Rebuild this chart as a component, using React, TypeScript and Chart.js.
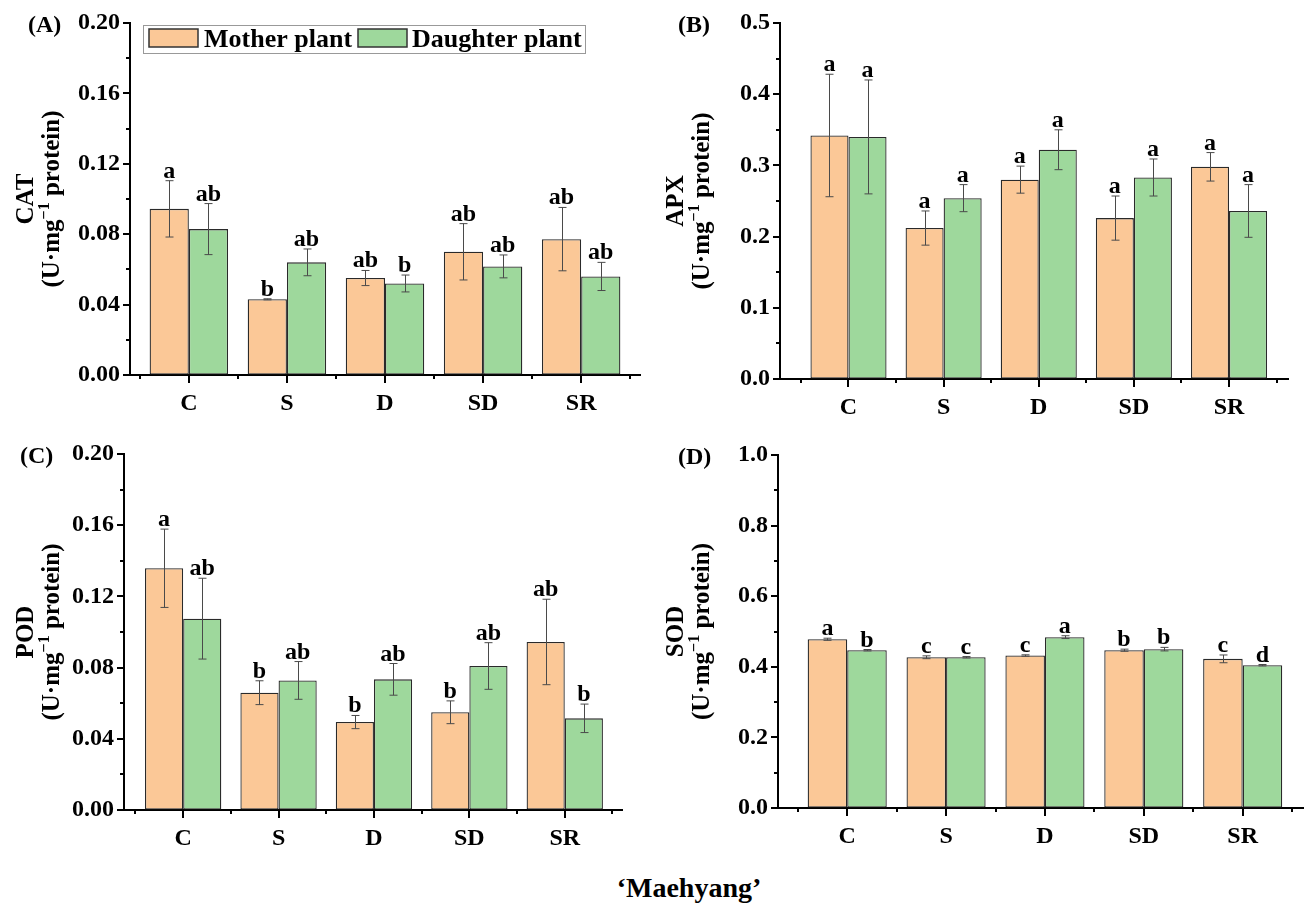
import React, { useEffect, useRef } from 'react';
import { Chart, registerables } from 'chart.js';

Chart.register(...registerables);

const FONT = "'Liberation Serif', 'Times New Roman', serif";
const ORANGE = '#FBC897';
const GREEN = '#9ED89C';

// Treatments on the x axis
const categories = ['C', 'S', 'D', 'SD', 'SR'];
const seriesNames = ['Mother plant', 'Daughter plant'];

// CAT activity
const catMother = [0.0944, 0.043, 0.0551, 0.07, 0.0772];
const catMotherErr = [0.016, 0.0003, 0.0043, 0.016, 0.018];
const catDaughter = [0.0829, 0.064, 0.052, 0.0617, 0.056];
const catDaughterErr = [0.0145, 0.0076, 0.0048, 0.0065, 0.008];
const catMotherSig = ['a', 'b', 'ab', 'ab', 'ab'];
const catDaughterSig = ['ab', 'ab', 'b', 'ab', 'ab'];

// APX activity
const apxMother = [0.342, 0.212, 0.28, 0.226, 0.298];
const apxMotherErr = [0.086, 0.024, 0.019, 0.031, 0.02];
const apxDaughter = [0.34, 0.254, 0.322, 0.283, 0.236];
const apxDaughterErr = [0.08, 0.019, 0.028, 0.026, 0.037];
const apxMotherSig = ['a', 'a', 'a', 'a', 'a'];
const apxDaughterSig = ['a', 'a', 'a', 'a', 'a'];

// POD activity
const podMother = [0.1358, 0.0659, 0.0494, 0.0549, 0.0944];
const podMotherErr = [0.022, 0.0067, 0.0037, 0.0064, 0.024];
const podDaughter = [0.1075, 0.0728, 0.0734, 0.0809, 0.0515];
const podDaughterErr = [0.0227, 0.0106, 0.0089, 0.0131, 0.008];
const podMotherSig = ['a', 'b', 'b', 'b', 'ab'];
const podDaughterSig = ['ab', 'ab', 'ab', 'ab', 'b'];

// SOD activity
const sodMother = [0.478, 0.427, 0.432, 0.447, 0.4225];
const sodMotherErr = [0.003, 0.004, 0.002, 0.003, 0.011];
const sodDaughter = [0.447, 0.427, 0.484, 0.45, 0.4045];
const sodDaughterErr = [0.002, 0.002, 0.004, 0.005, 0.002];
const sodMotherSig = ['a', 'c', 'c', 'b', 'c'];
const sodDaughterSig = ['b', 'c', 'a', 'b', 'd'];

type PanelSpec = {
  tag: string;
  enzyme: string;
  left: number;
  top: number;
  width: number;
  height: number;
  area: { l: number; t: number; r: number; b: number };
  xMin: number;
  xMax: number;
  yMax: number;
  yMinorStep: number;
  decimals: number;
  mother: number[];
  motherErr: number[];
  daughter: number[];
  daughterErr: number[];
  motherSig: string[];
  daughterSig: string[];
  legend: boolean;
};

const panels: PanelSpec[] = [
  {
    tag: '(A)', enzyme: 'CAT', left: 0, top: 0, width: 650, height: 430,
    area: { l: 130, t: 23, r: 640, b: 375 }, xMin: 0.4, xMax: 5.6,
    yMax: 0.2, yMinorStep: 0.02, decimals: 2,
    mother: catMother, motherErr: catMotherErr, daughter: catDaughter, daughterErr: catDaughterErr,
    motherSig: catMotherSig, daughterSig: catDaughterSig, legend: true,
  },
  {
    tag: '(B)', enzyme: 'APX', left: 650, top: 0, width: 656, height: 430,
    area: { l: 780, t: 23, r: 1288, b: 379 }, xMin: 0.28, xMax: 5.62,
    yMax: 0.5, yMinorStep: 0.05, decimals: 1,
    mother: apxMother, motherErr: apxMotherErr, daughter: apxDaughter, daughterErr: apxDaughterErr,
    motherSig: apxMotherSig, daughterSig: apxDaughterSig, legend: false,
  },
  {
    tag: '(C)', enzyme: 'POD', left: 0, top: 430, width: 650, height: 440,
    area: { l: 124, t: 454, r: 622, b: 810 }, xMin: 0.38, xMax: 5.6,
    yMax: 0.2, yMinorStep: 0.02, decimals: 2,
    mother: podMother, motherErr: podMotherErr, daughter: podDaughter, daughterErr: podDaughterErr,
    motherSig: podMotherSig, daughterSig: podDaughterSig, legend: false,
  },
  {
    tag: '(D)', enzyme: 'SOD', left: 650, top: 430, width: 656, height: 440,
    area: { l: 778, t: 455, r: 1303, b: 808 }, xMin: 0.3, xMax: 5.61,
    yMax: 1.0, yMinorStep: 0.1, decimals: 1,
    mother: sodMother, motherErr: sodMotherErr, daughter: sodDaughter, daughterErr: sodDaughterErr,
    motherSig: sodMotherSig, daughterSig: sodDaughterSig, legend: false,
  },
];

const Y_AXIS_W = 70;
const X_AXIS_H = 50;

function makeDecor(spec: PanelSpec) {
  const errs = [spec.motherErr, spec.daughterErr];
  const sigs = [spec.motherSig, spec.daughterSig];
  return {
    id: 'decor',
    afterDatasetsDraw(chart: any) {
      const ctx = chart.ctx;
      const ys = chart.scales.y;
      chart.data.datasets.forEach((ds: any, di: number) => {
        const meta = chart.getDatasetMeta(di);
        meta.data.forEach((bar: any, i: number) => {
          const v = ds.data[i].y;
          const e = errs[di][i];
          const x = Math.round(bar.x) + 0.5;
          const yTop = ys.getPixelForValue(v + e);
          const yBot = ys.getPixelForValue(v - e);
          ctx.save();
          ctx.strokeStyle = '#4a4a4a';
          ctx.lineWidth = 1;
          ctx.beginPath();
          ctx.moveTo(x, yTop);
          ctx.lineTo(x, yBot);
          ctx.moveTo(x - 4, yTop);
          ctx.lineTo(x + 4, yTop);
          ctx.moveTo(x - 4, yBot);
          ctx.lineTo(x + 4, yBot);
          ctx.stroke();
          ctx.fillStyle = '#000';
          ctx.font = `bold 24px ${FONT}`;
          ctx.textAlign = 'center';
          ctx.textBaseline = 'alphabetic';
          ctx.fillText(sigs[di][i], bar.x, Math.min(yTop, bar.y) - 3);
          ctx.restore();
        });
      });
    },
    afterDraw(chart: any) {
      const ctx = chart.ctx;
      const { left, bottom, top } = chart.chartArea;
      const xs = chart.scales.x;
      const ys = chart.scales.y;
      ctx.save();
      ctx.strokeStyle = '#000';
      ctx.lineWidth = 2;
      ctx.beginPath();
      // y tick marks: long at labelled values, short in between
      ys.ticks.forEach((t: any) => {
        const k = Math.round(t.value / spec.yMinorStep);
        const len = k % 2 === 0 ? 7 : 4;
        const py = Math.round(ys.getPixelForValue(t.value));
        ctx.moveTo(left, py);
        ctx.lineTo(left - len, py);
      });
      // x tick marks: long at treatments, short halfway between
      xs.ticks.forEach((t: any) => {
        const len = Number.isInteger(t.value) ? 8 : 4;
        const px = Math.round(xs.getPixelForValue(t.value));
        ctx.moveTo(px, bottom);
        ctx.lineTo(px, bottom + len);
      });
      ctx.stroke();

      // panel tag
      ctx.fillStyle = '#000';
      ctx.font = `bold 24px ${FONT}`;
      ctx.textAlign = 'left';
      ctx.textBaseline = 'alphabetic';
      ctx.fillText(spec.tag, spec.tag === '(C)' ? 20 : 28, top + 9);

      // two-line rotated y title
      const cy = (top + bottom) / 2;
      ctx.save();
      ctx.translate(27, cy);
      ctx.rotate(-Math.PI / 2);
      ctx.textAlign = 'center';
      ctx.textBaseline = 'middle';
      ctx.font = `bold 25px ${FONT}`;
      ctx.fillText(spec.enzyme, 0, 0);
      ctx.restore();

      ctx.save();
      ctx.translate(53, cy);
      ctx.rotate(-Math.PI / 2);
      ctx.textBaseline = 'middle';
      ctx.textAlign = 'left';
      const main = `bold 25px ${FONT}`;
      const sup = `bold 16px ${FONT}`;
      const p1 = '(U\u00b7mg';
      const p2 = '\u22121';
      const p3 = ' protein)';
      ctx.font = main;
      const w1 = ctx.measureText(p1).width;
      const w3 = ctx.measureText(p3).width;
      ctx.font = sup;
      const w2 = ctx.measureText(p2).width;
      let x0 = -(w1 + w2 + w3) / 2;
      ctx.font = main;
      ctx.fillText(p1, x0, 0);
      x0 += w1;
      ctx.font = sup;
      ctx.fillText(p2, x0, -8);
      x0 += w2;
      ctx.font = main;
      ctx.fillText(p3, x0, 0);
      ctx.restore();

      if (spec.legend) {
        const bx = 143 - spec.left;
        const by = 25;
        ctx.lineWidth = 1;
        ctx.strokeStyle = '#999';
        ctx.strokeRect(bx + 0.5, by + 0.5, 442, 28);
        const items = [
          { color: ORANGE, name: seriesNames[0], sx: 149, tx: 204 },
          { color: GREEN, name: seriesNames[1], sx: 358, tx: 412 },
        ];
        ctx.font = `bold 26px ${FONT}`;
        ctx.textAlign = 'left';
        ctx.textBaseline = 'alphabetic';
        items.forEach((it) => {
          ctx.fillStyle = it.color;
          ctx.fillRect(it.sx, by + 4, 49, 18);
          ctx.strokeStyle = '#333';
          ctx.lineWidth = 1.5;
          ctx.strokeRect(it.sx, by + 4, 49, 18);
          ctx.fillStyle = '#000';
          ctx.fillText(it.name, it.tx, by + 22);
        });
      }
      ctx.restore();
    },
  };
}

function buildConfig(spec: PanelSpec): any {
  const l = spec.area.l - spec.left;
  const t = spec.area.t - spec.top;
  const r = spec.area.r - spec.left;
  const b = spec.area.b - spec.top;
  const tickFont = { family: FONT, size: 24, weight: 'bold' as const };
  const yCount = Math.round(spec.yMax / spec.yMinorStep);
  return {
    type: 'bar',
    data: {
      datasets: [
        {
          label: seriesNames[0],
          data: spec.mother.map((v, i) => ({ x: i + 1, y: v })),
          backgroundColor: ORANGE,
          borderColor: '#2a2a2a',
          borderWidth: 1.3,
          borderSkipped: false,
        },
        {
          label: seriesNames[1],
          data: spec.daughter.map((v, i) => ({ x: i + 1, y: v })),
          backgroundColor: GREEN,
          borderColor: '#2a2a2a',
          borderWidth: 1.3,
          borderSkipped: false,
        },
      ],
    },
    options: {
      responsive: false,
      animation: false,
      // the bar ruler measures against the half-step tick marks, so a group
      // spanning 80% of one treatment step is 160% of that smallest spacing
      categoryPercentage: 1.6,
      barPercentage: 1.0,
      layout: {
        padding: {
          left: l - Y_AXIS_W,
          top: t,
          right: spec.width - r,
          bottom: spec.height - b - X_AXIS_H,
        },
      },
      plugins: { legend: { display: false }, tooltip: { enabled: false } },
      scales: {
        x: {
          type: 'linear',
          min: spec.xMin,
          max: spec.xMax,
          offset: false,
          afterFit: (s: any) => { s.height = X_AXIS_H; },
          afterBuildTicks: (s: any) => {
            const arr = [];
            for (let k = 1; k <= 11; k++) arr.push({ value: k / 2 });
            s.ticks = arr;
          },
          grid: { display: true, drawOnChartArea: false, drawTicks: true, tickLength: 6, color: 'rgba(0,0,0,0)', offset: false },
          border: { display: true, color: '#000', width: 2 },
          ticks: {
            autoSkip: false,
            maxRotation: 0,
            minRotation: 0,
            padding: 8,
            color: '#000',
            font: tickFont,
            callback: (value: number) => (Number.isInteger(value) ? categories[value - 1] : ''),
          },
        },
        y: {
          type: 'linear',
          min: 0,
          max: spec.yMax,
          afterFit: (s: any) => { s.width = Y_AXIS_W; },
          afterBuildTicks: (s: any) => {
            const arr = [];
            for (let k = 0; k <= yCount; k++) arr.push({ value: +(k * spec.yMinorStep).toFixed(4) });
            s.ticks = arr;
          },
          grid: { display: true, drawOnChartArea: false, drawTicks: true, tickLength: 6, color: 'rgba(0,0,0,0)' },
          border: { display: true, color: '#000', width: 2 },
          ticks: {
            autoSkip: false,
            padding: 4,
            color: '#000',
            font: tickFont,
            callback: (value: number) => {
              const k = Math.round(value / spec.yMinorStep);
              return k % 2 === 0 ? value.toFixed(spec.decimals) : '';
            },
          },
        },
      },
    },
    plugins: [makeDecor(spec)],
  };
}

function Panel({ spec }: { spec: PanelSpec }) {
  const ref = useRef<HTMLCanvasElement>(null);
  useEffect(() => {
    const chart = new Chart(ref.current as HTMLCanvasElement, buildConfig(spec));
    return () => chart.destroy();
  }, [spec]);
  return (
    <canvas
      ref={ref}
      width={spec.width}
      height={spec.height}
      style={{ position: 'absolute', left: spec.left, top: spec.top, width: spec.width, height: spec.height }}
    />
  );
}

export default function App() {
  return (
    <div style={{ position: 'fixed', left: 0, top: 0, width: 1306, height: 907, background: '#fff', overflow: 'hidden' }}>
      {panels.map((p) => (
        <Panel key={p.tag} spec={p} />
      ))}
      <div
        style={{
          position: 'absolute',
          left: 589,
          width: 200,
          top: 872,
          textAlign: 'center',
          fontFamily: FONT,
          fontWeight: 'bold',
          fontSize: 28,
          lineHeight: '32px',
          color: '#000',
        }}
      >
        {'\u2018Maehyang\u2019'}
      </div>
    </div>
  );
}
